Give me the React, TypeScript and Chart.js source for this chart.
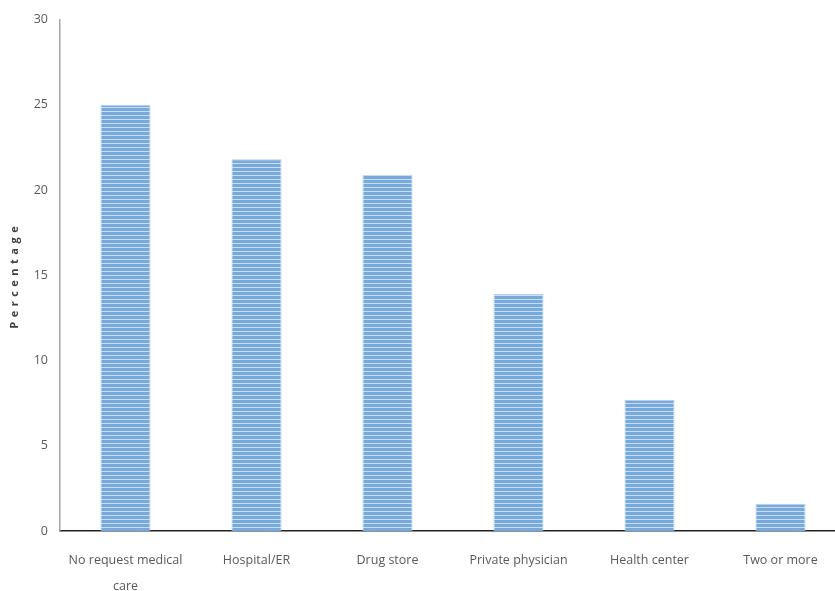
import React, { useEffect, useRef } from "react";
import { Chart, registerables } from "chart.js";

Chart.register(...registerables);

// Where patients sought care
const categories: (string | string[])[] = [
  ["No request medical", "care"],
  "Hospital/ER",
  "Drug store",
  "Private physician",
  "Health center",
  "Two or more",
];
const percentages = [25.0, 21.8, 20.9, 13.9, 7.7, 1.6];
const yTicks = [0, 5, 10, 15, 20, 25, 30];
const yTitle = "Percentage";

const FONT = "'Open Sans', 'Liberation Sans', sans-serif";
const TEXT = "#595959";

// Horizontal stripes: blue body with thin pale lines
function makeStripes(ctx: CanvasRenderingContext2D): CanvasPattern | string {
  const c = document.createElement("canvas");
  c.width = 4;
  c.height = 4;
  const p = c.getContext("2d");
  if (!p) return "#79aade";
  p.fillStyle = "#78a9dc";
  p.fillRect(0, 0, 4, 4);
  p.fillStyle = "#c8ddf2";
  p.fillRect(0, 3, 4, 1);
  return ctx.createPattern(c, "repeat") || "#79aade";
}

// Rotated, letter-spaced axis title centred on the plot height
const spacedTitle = {
  id: "spacedTitle",
  afterDraw(chart: any) {
    const { ctx, chartArea } = chart;
    ctx.save();
    ctx.translate(15, (chartArea.top + chartArea.bottom) / 2);
    ctx.rotate(-Math.PI / 2);
    ctx.font = `bold 11px ${FONT}`;
    (ctx as any).letterSpacing = "4.5px";
    ctx.fillStyle = "#404040";
    ctx.textAlign = "center";
    ctx.textBaseline = "middle";
    ctx.fillText(yTitle, 0, 0);
    ctx.restore();
  },
};

export default function App() {
  const ref = useRef<HTMLCanvasElement | null>(null);

  useEffect(() => {
    const canvas = ref.current;
    if (!canvas) return;
    const ctx = canvas.getContext("2d");
    if (!ctx) return;
    const stripes = makeStripes(ctx);

    const chart = new Chart(canvas, {
      type: "bar",
      data: {
        labels: categories,
        datasets: [
          {
            data: percentages,
            backgroundColor: stripes as any,
            borderColor: "#b3cfec",
            borderWidth: 1,
            categoryPercentage: 1,
            barPercentage: 0.382,
          },
        ],
      },
      options: {
        responsive: false,
        animation: false,
        layout: { padding: { top: 19, right: 0, left: 0, bottom: 0 } },
        plugins: {
          legend: { display: false },
          tooltip: { enabled: false },
        },
        scales: {
          x: {
            grid: { display: false, drawTicks: false },
            border: { display: true, color: "#222222", width: 1.5 },
            ticks: {
              color: TEXT,
              font: { family: FONT, size: 12.5, lineHeight: 2.1 },
              padding: 16,
              maxRotation: 0,
              autoSkip: false,
            },
            afterFit: (s: any) => {
              s.height = 60;
            },
          },
          y: {
            min: 0,
            max: 30,
            afterBuildTicks: (s: any) => {
              s.ticks = yTicks.map((v) => ({ value: v }));
            },
            grid: { display: false, drawTicks: false },
            border: { display: true, color: "#a6a6a6", width: 1.5 },
            ticks: {
              color: TEXT,
              font: { family: FONT, size: 12.5 },
              padding: 12,
            },
            afterFit: (s: any) => {
              s.width = 60;
            },
          },
        },
      },
      plugins: [spacedTitle],
    });

    return () => chart.destroy();
  }, []);

  // The plot runs slightly past the right edge of the visible frame
  return (
    <div
      style={{
        position: "absolute",
        left: 0,
        top: 0,
        width: 835,
        height: 591,
        overflow: "hidden",
        background: "#ffffff",
      }}
    >
      <canvas ref={ref} width={846} height={591} style={{ display: "block" }} />
    </div>
  );
}
